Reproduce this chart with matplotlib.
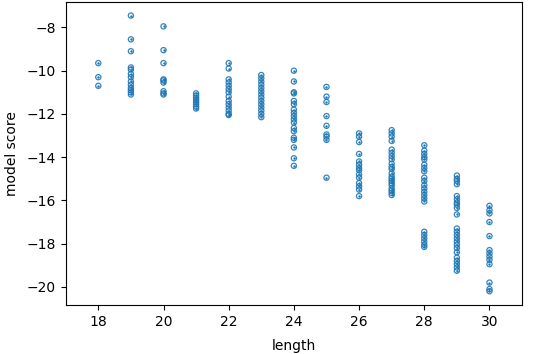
import matplotlib
matplotlib.use("Agg")
import matplotlib.pyplot as plt
import numpy as np

s18 = [-9.65, -10.3, -10.7]
s19 = [-7.45, -8.55, -9.1, -9.85, -9.95, -10.15, -10.3, -10.5, -10.65, -10.8, -10.9, -11.0, -11.1]
s20 = [-7.95, -9.05, -9.65, -10.4, -10.45, -10.55, -10.95, -11.05, -11.1]
s21 = [-11.05, -11.15, -11.25, -11.35, -11.45, -11.55, -11.65, -11.75]
s22 = [-9.65, -9.9, -10.4, -10.55, -10.7, -10.85, -11.0, -11.2, -11.4, -11.55, -11.7, -11.85, -12.0, -12.05]
s23 = [-10.2, -10.35, -10.5, -10.65, -10.8, -10.95, -11.1, -11.25, -11.4, -11.55, -11.7, -11.85, -12.0, -12.15]
s24 = [-10.0, -10.5, -11.0, -11.05, -11.4, -11.55, -11.8, -11.95, -12.1, -12.25, -12.4, -12.65, -12.8, -13.1, -13.2, -13.55, -14.05, -14.4]
s25 = [-10.75, -11.2, -11.45, -12.1, -12.55, -12.95, -13.05, -13.2, -14.95]
s26 = [-12.9, -13.05, -13.3, -13.85, -14.2, -14.35, -14.5, -14.6, -14.8, -14.95, -15.2, -15.35, -15.5, -15.8]
s27 = [-12.75, -12.9, -13.05, -13.25, -13.65, -13.8, -13.95, -14.1, -14.3, -14.45, -14.55, -14.75, -14.9, -15.0, -15.1, -15.2, -15.3, -15.45, -15.55, -15.65, -15.75]
s28 = [-13.45, -13.7, -13.85, -14.0, -14.1, -14.35, -14.5, -14.65, -14.95, -15.1, -15.3, -15.45, -15.6, -15.75, -15.9, -16.05, -17.45, -17.6, -17.75, -17.9, -18.05, -18.15]
s29 = [-14.85, -15.0, -15.1, -15.25, -15.8, -15.95, -16.1, -16.2, -16.35, -16.65, -17.3, -17.45, -17.6, -17.75, -17.9, -18.05, -18.2, -18.4, -18.65, -18.8, -18.95, -19.1, -19.25]
s30 = [-16.25, -16.45, -16.6, -17.0, -17.65, -18.3, -18.45, -18.6, -18.75, -18.95, -19.8, -20.1, -20.2]

lengths = [18, 19, 20, 21, 22, 23, 24, 25, 26, 27, 28, 29, 30]
scores = [s18, s19, s20, s21, s22, s23, s24, s25, s26, s27, s28, s29, s30]

xs = np.concatenate([[L] * len(s) for L, s in zip(lengths, scores)])
ys = np.concatenate([np.array(s) for s in scores])

fig = plt.figure(figsize=(5.36, 3.54), dpi=100)
ax = fig.add_axes([0.1226, 0.1384, 0.8514, 0.8566])
color = "#1f77b4"
ax.scatter(xs, ys, s=14, facecolors="none", edgecolors=color, linewidths=0.9, alpha=0.9)
ax.scatter(xs, ys, s=3.0, color=color, linewidths=0)
ax.set_xlim(17, 31)
ax.set_xticks([18, 20, 22, 24, 26, 28, 30])
ax.set_yticks([-8, -10, -12, -14, -16, -18, -20])
ax.set_xlabel("length", labelpad=7.5)
ax.set_ylabel("model score", labelpad=5.5)
fig.savefig("out.png", dpi=100)
